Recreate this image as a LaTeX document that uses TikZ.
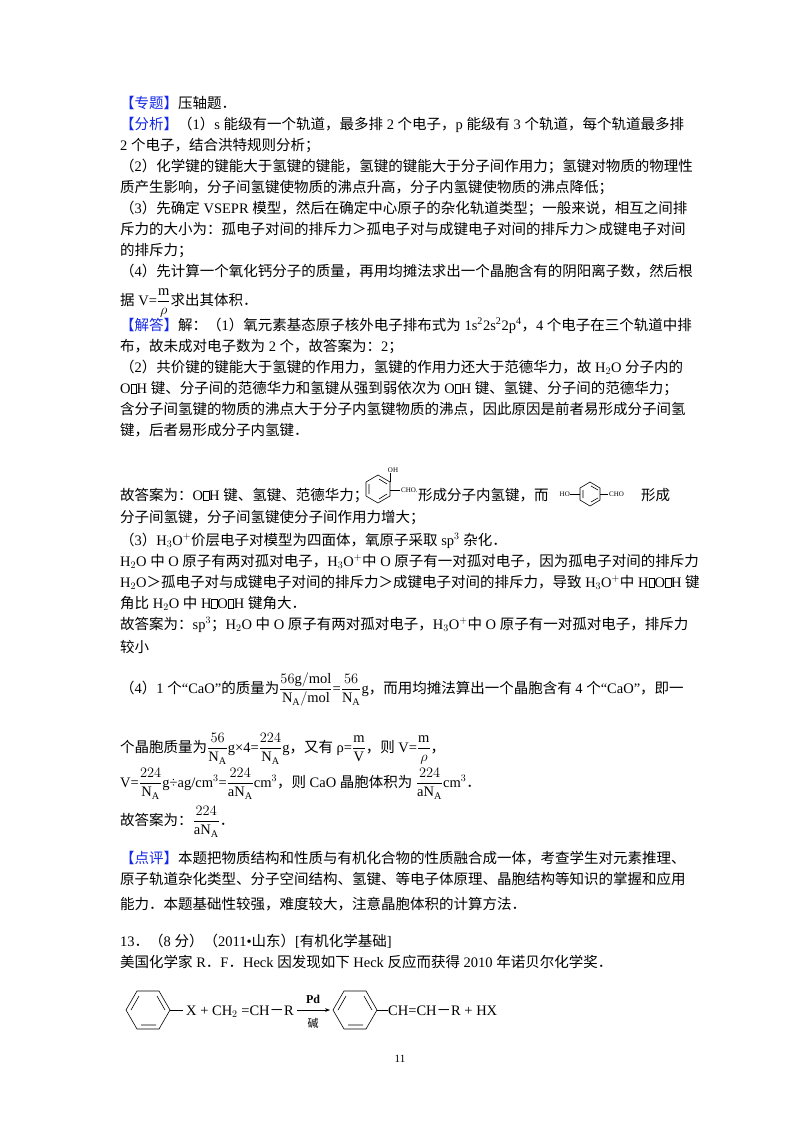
\documentclass[tikz,border=0pt]{standalone}
\usepackage{fontspec}
\usepackage{amsmath}
\usetikzlibrary{arrows.meta}
\setmainfont{Liberation Serif}
\newfontfamily\cjk{Noto Sans CJK SC}
\XeTeXinterchartokenstate=1
\newXeTeXintercharclass\CJKcls
\makeatletter
\count@="3000
\loop \XeTeXcharclass\count@=\CJKcls \ifnum\count@<"9FFF \advance\count@ 1 \repeat
\count@="FF00
\loop \XeTeXcharclass\count@=\CJKcls \ifnum\count@<"FFEF \advance\count@ 1 \repeat
\makeatother
\XeTeXinterchartoks 0 \CJKcls = {\begingroup\cjk}
\XeTeXinterchartoks 4095 \CJKcls = {\begingroup\cjk}
\XeTeXinterchartoks \CJKcls 0 = {\endgroup}
\XeTeXinterchartoks \CJKcls 4095 = {\endgroup}
\definecolor{tagblue}{RGB}{20,40,230}
\newcommand{\tg}[1]{{\color{tagblue}#1}}
\newcommand{\bx}{{\setlength{\fboxsep}{0pt}\setlength{\fboxrule}{0.5pt}\fbox{\rule{0pt}{9pt}\hspace{5pt}}}}
\newcommand{\NA}{\mathrm{N_A}}
\newcommand{\fr}[2]{\dfrac{#1}{#2}}
\begin{document}
\begin{tikzpicture}[x=1pt,y=-1pt,
  ln/.style={anchor=base west,inner sep=0pt,font=\fontsize{14.5}{17}\selectfont},
  sm/.style={inner sep=0pt,font=\fontsize{7}{8}\selectfont},
  bond/.style={line width=0.6pt}]
\useasboundingbox[fill=white] (0,0) rectangle (800,1132);
\node[ln] (l1) at (120,108) {\tg{【专题】}压轴题．};
\node[ln] (l2) at (120,129) {\tg{【分析】}（1）s 能级有一个轨道，最多排 2 个电子，p 能级有 3 个轨道，每个轨道最多排};
\node[ln] (l3) at (120,150) {2 个电子，结合洪特规则分析；};
\node[ln] (l4) at (120,171) {（2）化学键的键能大于氢键的键能，氢键的键能大于分子间作用力；氢键对物质的物理性};
\node[ln] (l5) at (120,192) {质产生影响，分子间氢键使物质的沸点升高，分子内氢键使物质的沸点降低；};
\node[ln] (l6) at (120,213) {（3）先确定 VSEPR 模型，然后在确定中心原子的杂化轨道类型；一般来说，相互之间排};
\node[ln] (l7) at (120,234) {斥力的大小为：孤电子对间的排斥力＞孤电子对与成键电子对间的排斥力＞成键电子对间};
\node[ln] (l8) at (120,255) {的排斥力；};
\node[ln] (l9) at (120,276) {（4）先计算一个氧化钙分子的质量，再用均摊法求出一个晶胞含有的阴阳离子数，然后根};
\node[ln] (l10) at (120,305) {据 V=$\fr{\mathrm m}{\rho}$求出其体积．};
\node[ln] (l11) at (120,330) {\tg{【解答】}解：（1）氧元素基态原子核外电子排布式为 1s\textsuperscript{2}2s\textsuperscript{2}2p\textsuperscript{4}，4 个电子在三个轨道中排};
\node[ln] (l12) at (120,351) {布，故未成对电子数为 2 个，故答案为：2；};
\node[ln] (l13) at (120,372) {（2）共价键的键能大于氢键的作用力，氢键的作用力还大于范德华力，故 H$_2$O 分子内的};
\node[ln] (l14) at (120,393) {O\bx H 键、分子间的范德华力和氢键从强到弱依次为 O\bx H 键、氢键、分子间的范德华力；};
\node[ln] (l15) at (120,414) {含分子间氢键的物质的沸点大于分子内氢键物质的沸点，因此原因是前者易形成分子间氢};
\node[ln] (l16) at (120,435) {键，后者易形成分子内氢键．};
\node[ln] (l17a) at (120,500) {故答案为：O\bx H 键、氢键、范德华力；};
\node[ln] (l17b) at (418,500) {形成分子内氢键，而};
\node[ln] (l17c) at (641,500) {形成};
% ortho structure
\draw[bond] (378,475)--(390,482)--(390,496)--(378,503)--(366,496)--(366,482)--cycle;
\draw[bond] (369,484)--(369,494) (379,499)--(387,494) (379,479)--(387,484);
\draw[bond] (390,482)--(390,473);
\node[sm,anchor=south] (oh) at (393,473) {OH};
\draw[bond] (390,490)--(400,490);
\node[sm,anchor=west] (cho1) at (401,490) {CHO.};
% para structure
\draw[bond] (590,482)--(600,488)--(600,500)--(590,506)--(580,500)--(580,488)--cycle;
\draw[bond] (583,490)--(583,498) (591,502)--(598,498) (591,486)--(598,490);
\node[sm,anchor=east] (ho) at (570,494) {HO};
\draw[bond] (570,494)--(580,494) (600,494)--(608,494);
\node[sm,anchor=west] (cho2) at (609,494) {CHO};
\node[ln] (l18) at (120,522) {分子间氢键，分子间氢键使分子间作用力增大；};
\node[ln] (l19) at (120,545) {（3）H$_3$O$^+$价层电子对模型为四面体，氧原子采取 sp$^3$ 杂化．};
\node[ln] (l20) at (120,566) {H$_2$O 中 O 原子有两对孤对电子，H$_3$O$^+$中 O 原子有一对孤对电子，因为孤电子对间的排斥力};
\node[ln] (l21) at (120,587) {H$_2$O＞孤电子对与成键电子对间的排斥力＞成键电子对间的排斥力，导致 H$_3$O$^+$中 H\bx O\bx H 键};
\node[ln] (l22) at (120,608) {角比 H$_2$O 中 H\bx O\bx H 键角大．};
\node[ln] (l23) at (120,629) {故答案为：sp$^3$；H$_2$O 中 O 原子有两对孤对电子，H$_3$O$^+$中 O 原子有一对孤对电子，排斥力};
\node[ln] (l24) at (120,652) {较小};
\node[ln] (l25) at (120,693) {（4）1 个“CaO”的质量为$\fr{56\mathrm{g/mol}}{\NA\mathrm{/mol}}$=$\fr{56}{\NA}$g，而用均摊法算出一个晶胞含有 4 个“CaO”，即一};
\node[ln] (l26) at (120,752) {个晶胞质量为$\fr{56}{\NA}$g×4=$\fr{224}{\NA}$g，又有 ρ=$\fr{\mathrm m}{\mathrm V}$，则 V=$\fr{\mathrm m}{\rho}$，};
\node[ln] (l27) at (120,787) {V=$\fr{224}{\NA}$g÷ag/cm$^3$=$\fr{224}{\mathrm a\NA}$cm$^3$，则 CaO 晶胞体积为 $\fr{224}{\mathrm a\NA}$cm$^3$．};
\node[ln] (l28) at (120,825) {故答案为：$\fr{224}{\mathrm a\NA}$．};
\node[ln] (l29) at (120,863) {\tg{【点评】}本题把物质结构和性质与有机化合物的性质融合成一体，考查学生对元素推理、};
\node[ln] (l30) at (120,884) {原子轨道杂化类型、分子空间结构、氢键、等电子体原理、晶胞结构等知识的掌握和应用};
\node[ln] (l31) at (120,909) {能力．本题基础性较强，难度较大，注意晶胞体积的计算方法．};
\node[ln] (l32) at (120,946) {13．（8 分）（2011•山东）[有机化学基础]};
\node[ln] (l33) at (120,967) {美国化学家 R．F．Heck 因发现如下 Heck 反应而获得 2010 年诺贝尔化学奖．};
% reaction
\draw[bond] (126,1010)--(137,991)--(159,991)--(170,1010)--(159,1029)--(137,1029)--cycle;
\draw[bond] (131,1010)--(139,996) (141,1025)--(156,1025) (157,996)--(165,1010);
\draw[bond] (170,1010)--(183,1010);
\node[ln] (r1) at (186,1015) {X + CH$_2$ =CH－R};
\draw[bond,-{Stealth[length=5pt]}] (297,1010)--(330,1010);
\node[inner sep=0pt,font=\bfseries\fontsize{12}{14}\selectfont] (pd) at (313,999) {Pd};
\node[inner sep=0pt,font=\fontsize{11}{13}\selectfont] (jian) at (313,1023) {碱};
\draw[bond] (333,1010)--(344,991)--(366,991)--(377,1010)--(366,1029)--(344,1029)--cycle;
\draw[bond] (338,1010)--(346,996) (348,1025)--(363,1025) (364,996)--(372,1010);
\draw[bond] (377,1010)--(388,1010);
\node[ln] (r2) at (388,1015) {CH=CH－R + HX};
\node[inner sep=0pt,font=\fontsize{11}{13}\selectfont] (pg) at (400,1059) {11};
\end{tikzpicture}
\end{document}
